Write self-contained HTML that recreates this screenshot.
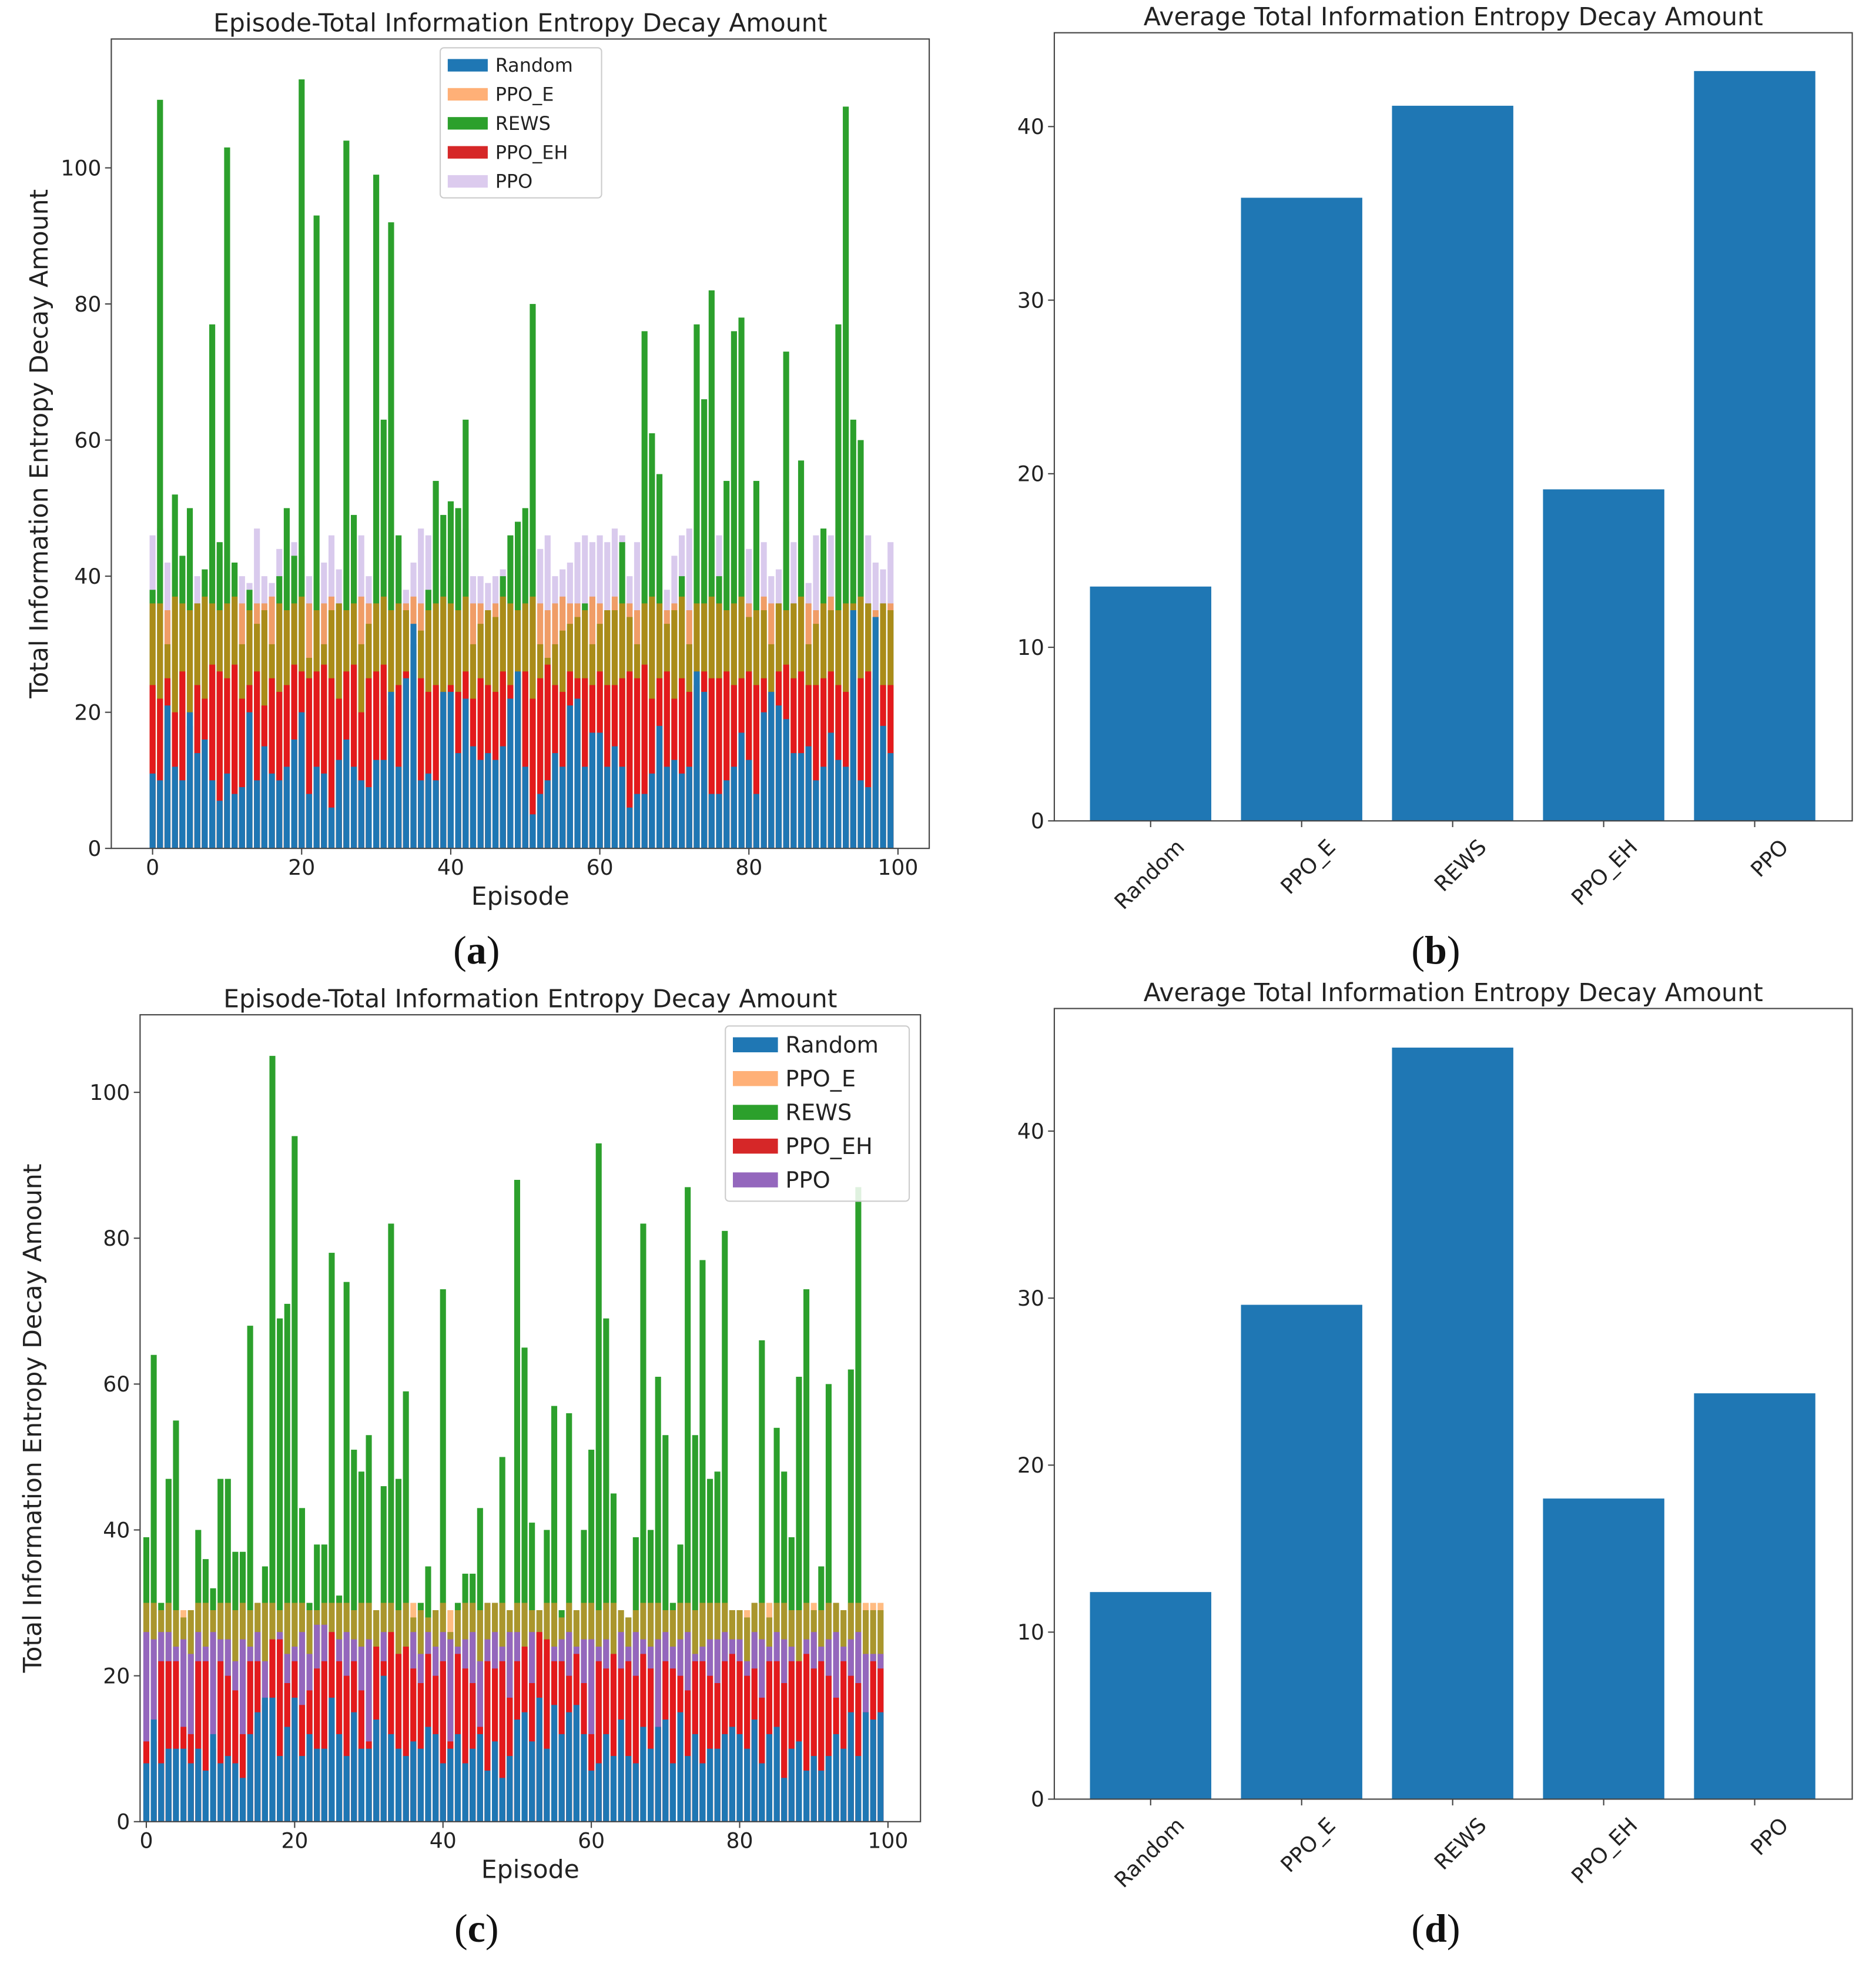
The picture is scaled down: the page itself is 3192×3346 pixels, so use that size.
<!DOCTYPE html>
<html><head><meta charset="utf-8"><style>html,body{margin:0;padding:0;background:#fff}svg{display:block}</style></head>
<body>
<svg id="fig" width="3192" height="3346" viewBox="0 0 1500 1572" xmlns="http://www.w3.org/2000/svg" font-family="'DejaVu Sans','Liberation Sans',sans-serif">
</svg>
<script>
// ---- Chart (a) data ----
const episodes = Array.from({length:100},(_, i)=>i);
const aREWS = [38,110,30,52,43,50,36,41,77,45, 103,42,30,38,33,35,30,40,50,43, 113,28,93,30,35,36,104,49,30,33, 99,63,92,46,35,30,32,38,54,49, 51,50,63,30,33,35,34,40,46,48, 50,80,30,28,30,32,33,34,36,30, 33,35,35,45,34,30,76,61,55,33, 35,40,30,77,66,82,40,54,76,78, 34,54,35,30,36,73,36,57,30,33, 47,35,77,109,63,60,36,34,36,35];
const aPPO_E = [36,36,35,37,36,35,36,37,36,35, 36,37,36,35,36,36,37,36,35,36, 37,36,35,36,37,36,35,36,37,36, 36,37,35,36,36,37,36,35,36,37, 36,35,37,36,36,35,36,37,36,35, 36,37,36,35,36,37,36,36,35,37, 36,35,37,36,36,35,36,37,36,35, 36,37,35,36,36,37,36,35,36,37, 36,35,37,36,36,35,36,37,36,35, 36,37,35,36,36,37,36,35,36,36];
const aPPO = [46,47,42,40,41,40,40,41,44,43, 42,41,40,39,47,40,39,44,40,45, 43,40,39,42,46,41,40,44,46,40, 46,41,40,44,38,42,47,46,41,40, 44,42,47,40,40,39,40,41,38,44, 43,40,44,46,40,41,42,45,46,45, 46,45,47,46,40,45,41,44,40,38, 43,46,47,44,42,45,46,41,42,40, 44,42,45,40,41,48,45,44,39,46, 45,46,47,45,48,44,46,42,41,45];
const aPPO_EH = [24,22,25,20,26,18,24,22,27,26, 25,27,22,24,26,21,25,23,24,27, 26,25,26,27,25,22,26,27,20,25, 26,27,21,24,26,22,25,23,24,23, 24,23,26,22,25,24,23,26,24,25, 26,22,25,27,24,23,26,25,25,24, 26,24,24,25,26,25,27,22,25,26, 22,25,23,24,26,25,25,26,24,25, 26,24,25,23,26,27,25,26,24,24, 25,26,24,23,26,25,26,25,24,24];
const aRandom = [11,10,21,12,10,20,14,16,10,7, 11,8,9,20,10,15,11,10,12,16, 20,8,12,11,6,13,16,12,10,9, 13,13,23,12,25,33,10,11,10,23, 23,14,22,15,13,14,13,15,22,26, 12,5,8,10,14,12,21,22,12,17, 17,12,15,12,6,8,8,11,18,12, 13,11,12,26,23,8,8,10,12,17, 13,8,20,23,21,19,14,14,15,10, 12,17,13,12,35,10,9,34,18,14];
// ---- Chart (c) data ----
const cREWS = [39,64,30,47,55,28,29,40,36,32, 47,47,37,37,68,30,35,105,69,71, 94,43,30,38,38,78,31,74,51,48, 53,29,46,82,47,59,28,30,35,29, 73,26,30,34,34,43,30,30,50,29, 88,65,41,29,40,57,29,56,29,40, 51,93,69,45,29,28,39,82,40,61, 53,30,38,87,53,77,47,48,81,29, 29,28,30,66,28,54,48,39,61,73, 29,35,60,30,29,62,87,29,29,29];
const cPPO_E = [30,30,29,30,29,29,29,30,30,29, 30,30,29,30,29,30,30,30,29,30, 30,30,29,29,30,30,30,30,29,30, 30,29,30,30,29,30,30,29,28,29, 30,29,29,30,30,29,30,30,30,29, 30,30,29,29,30,30,28,30,29,30, 30,29,30,30,29,28,29,30,30,30, 29,29,30,30,29,30,30,30,30,29, 29,29,30,30,30,30,30,29,29,30, 30,29,30,30,29,30,30,30,30,30];
const cPPO = [26,25,26,26,24,25,23,26,24,26, 25,25,22,25,24,26,22,25,26,23, 24,26,23,27,27,26,25,26,25,24, 25,24,26,24,23,21,26,23,26,24, 26,25,24,25,26,22,25,26,24,26, 26,24,26,25,23,24,25,26,24,25, 25,24,25,23,26,24,26,25,24,25, 26,24,25,26,23,24,25,25,26,25, 25,22,26,25,24,26,25,24,21,25, 26,24,25,26,24,25,26,23,23,23];
const cPPO_EH = [11,11,22,22,22,13,12,22,22,10, 22,20,18,12,22,22,16,25,25,19, 22,16,18,21,22,26,22,20,22,18, 11,24,22,26,23,24,21,19,23,20, 22,11,23,21,19,13,22,21,22,17, 22,24,19,26,25,22,22,20,23,19, 12,22,21,23,21,22,20,23,21,13, 22,21,20,18,22,22,20,19,22,23, 22,20,21,17,22,22,19,22,22,23, 21,22,20,17,22,20,19,15,22,21];
const cRandom = [8,14,8,10,10,10,8,10,7,12, 8,9,8,6,12,15,17,17,9,13, 17,9,12,10,10,17,12,9,15,10, 10,14,20,12,10,9,11,10,13,12, 8,10,12,8,10,12,7,11,6,9, 14,15,11,17,10,16,12,15,16,12, 7,8,12,9,14,9,8,13,10,13, 14,8,15,9,12,8,10,10,12,13, 12,10,14,8,12,13,6,10,11,7, 9,7,9,12,10,15,9,15,14,15];
// ---- Average bar data ----
const avgCats = ['Random','PPO_E','REWS','PPO_EH','PPO'];
const avgB = [13.5,35.9,41.2,19.1,43.2];
const avgD = [12.4,29.6,45.0,18.0,24.3];
const ticksA = [0,20,40,60,80,100];
const ticksB = [0,10,20,30,40];

const NS='http://www.w3.org/2000/svg';
const svg=document.getElementById('fig');
function el(tag,attrs,parent,text){const e=document.createElementNS(NS,tag);for(const k in attrs)e.setAttribute(k,attrs[k]);if(text!==undefined)e.textContent=text;(parent||svg).appendChild(e);return e;}

function episodeChart(o){
  const g=el('g',{},svg);
  
  
  const xs=v=>o.x0+(v)*(o.x100-o.x0)/100;
  const ys=v=>o.y0-v*(o.y0-o.y100)/100;
  const bw=0.8*(o.x100-o.x0)/100;
  o.layers.forEach(L=>{
    const lg=el('g',{},g);
    
    
    L.data.forEach((v,i)=>{
      const r=el('rect',{x:xs(episodes[i])-bw/2,y:ys(v),width:bw,height:ys(0)-ys(v),fill:L.color,'fill-opacity':L.alpha},lg);
      
      
    });
  });
  const fr=el('rect',{x:o.bx0,y:o.by0,width:o.bx1-o.bx0,height:o.by1-o.by0,fill:'none',stroke:'#444','stroke-width':1},g);
  
  
  ticksA.forEach(t=>{
    el('line',{x1:xs(t),x2:xs(t),y1:o.by1,y2:o.by1+5,stroke:'#444'},g);
    const tx=el('text',{x:xs(t),y:o.by1+21,'text-anchor':'middle','font-size':17,fill:'#222'},g,String(t));
    
    
    el('line',{x1:o.bx0-5,x2:o.bx0,y1:ys(t),y2:ys(t),stroke:'#444'},g);
    const ty=el('text',{x:o.bx0-8,y:ys(t)+6,'text-anchor':'end','font-size':17,fill:'#222'},g,String(t));
    
    
  });
  const tt=el('text',{x:(o.bx0+o.bx1)/2,y:o.by0-6,'text-anchor':'middle','font-size':20,fill:'#222'},g,'Episode-Total Information Entropy Decay Amount');
  
  
  const xl=el('text',{x:(o.bx0+o.bx1)/2,y:o.by1+45,'text-anchor':'middle','font-size':20,fill:'#222'},g,'Episode');
  
  
  const yl=el('text',{x:0,y:0,'text-anchor':'middle','font-size':20,fill:'#222',transform:`translate(${o.ylx},${(o.by0+o.by1)/2}) rotate(-90)`},g,'Total Information Entropy Decay Amount');
  
  
  const lg=el('g',{},g);
  
  
  el('rect',{x:o.leg.x,y:o.leg.y,width:o.leg.w,height:o.leg.h,fill:'#fff','fill-opacity':0.85,stroke:'#ccc',rx:3},lg);
  o.legItems.forEach((it,i)=>{
    const cy=o.leg.y+o.leg.first+i*o.leg.step;
    const e=el('g',{},lg);
    
    
    el('rect',{x:o.leg.x+6,y:cy-o.leg.sh/2,width:o.leg.sw,height:o.leg.sh,fill:it[1]},e);
    el('text',{x:o.leg.x+12+o.leg.sw,y:cy+o.leg.fs*0.35,'font-size':o.leg.fs,fill:'#222'},e,it[0]);
  });
}

episodeChart({name:'chart-a-episode-decay',x0:122,x100:718,y0:678,y100:134,bx0:89,bx1:743,by0:31,by1:678,ylx:38,
  layers:[
    {label:'PPO',data:aPPO,color:'#c9b3e6',alpha:0.7},
    {label:'REWS',data:aREWS,color:'#2ca02c',alpha:1},
    {label:'PPO_E',data:aPPO_E,color:'#ff7f0e',alpha:0.6},
    {label:'PPO_EH',data:aPPO_EH,color:'#e31a1c',alpha:1},
    {label:'Random',data:aRandom,color:'#1f77b4',alpha:1}],
  leg:{x:352,y:38,w:129,h:120,first:14,step:23.2,sw:32,sh:10,fs:15},
  legItems:[['Random','#1f77b4'],['PPO_E','#ffb077'],['REWS','#2ca02c'],['PPO_EH','#d62728'],['PPO','#dccbee']]});

episodeChart({name:'chart-c-episode-decay',x0:117,x100:710,y0:1456,y100:873,bx0:112,bx1:736,by0:811,by1:1456,ylx:33,
  layers:[
    {label:'REWS',data:cREWS,color:'#2ca02c',alpha:1},
    {label:'PPO_E',data:cPPO_E,color:'#ff8f2e',alpha:0.6},
    {label:'PPO',data:cPPO,color:'#9467bd',alpha:1},
    {label:'PPO_EH',data:cPPO_EH,color:'#e31a1c',alpha:1},
    {label:'Random',data:cRandom,color:'#1f77b4',alpha:1}],
  leg:{x:580,y:820,w:147,h:140,first:15,step:27,sw:36,sh:12,fs:18},
  legItems:[['Random','#1f77b4'],['PPO_E','#ffb077'],['REWS','#2ca02c'],['PPO_EH','#d62728'],['PPO','#9467bd']]});

function avgChart(o){
  const g=el('g',{},svg);
  
  
  const ys=v=>o.y0-v*(o.y0-o.y40)/40;
  const bw=97, step=120.75, c0=920;
  o.data.forEach((v,i)=>{
    const cx=c0+i*step;
    const r=el('rect',{x:cx-bw/2,y:ys(v),width:bw,height:ys(0)-ys(v),fill:'#1f77b4'},g);
    
    
    el('line',{x1:cx,x2:cx,y1:o.by1,y2:o.by1+5,stroke:'#444'},g);
    const t=el('text',{x:0,y:0,'text-anchor':'end','font-size':17,fill:'#222',transform:`translate(${cx+28},${o.by1+22}) rotate(-45)`},g,avgCats[i]);
    
    
  });
  el('rect',{x:o.bx0,y:o.by0,width:o.bx1-o.bx0,height:o.by1-o.by0,fill:'none',stroke:'#444'},g);
  ticksB.forEach(t=>{
    el('line',{x1:o.bx0-5,x2:o.bx0,y1:ys(t),y2:ys(t),stroke:'#444'},g);
    const ty=el('text',{x:o.bx0-8,y:ys(t)+6,'text-anchor':'end','font-size':17,fill:'#222'},g,String(t));
    
    
  });
  const tt=el('text',{x:(o.bx0+o.bx1)/2,y:o.by0-6,'text-anchor':'middle','font-size':20,fill:'#222'},g,'Average Total Information Entropy Decay Amount');
  
  
}
avgChart({name:'chart-b-average',data:avgB,y0:656,y40:101,bx0:843,bx1:1481,by0:26,by1:656});
avgChart({name:'chart-d-average',data:avgD,y0:1438,y40:904,bx0:843,bx1:1481,by0:806,by1:1438});

[['(a)',381,770],['(b)',1148,770],['(c)',381,1552],['(d)',1148,1552]].forEach(p=>{
  const t=el('text',{x:p[1],y:p[2],'text-anchor':'middle','font-size':32,'font-family':"'Liberation Serif',serif",fill:'#111'},svg);
  
  
  el('tspan',{},t,'(');
  el('tspan',{'font-weight':'bold'},t,p[0][1]);
  el('tspan',{},t,')');
});
</script>
</body></html>
